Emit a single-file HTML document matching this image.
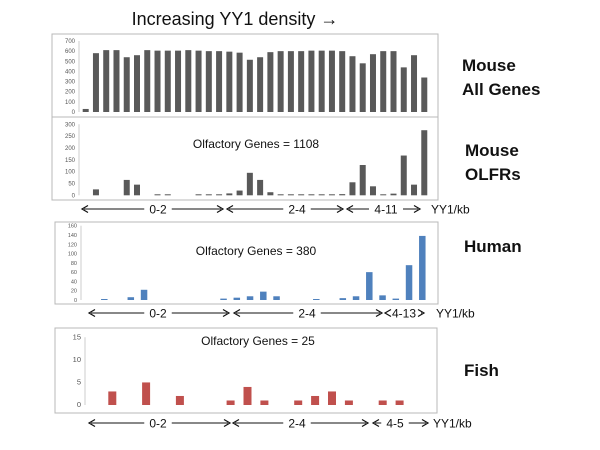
<!DOCTYPE html>
<html><head><meta charset="utf-8"><style>
html,body{margin:0;padding:0;background:#fff;width:600px;height:450px;overflow:hidden}
svg{display:block;font-family:"Liberation Sans",Arial,sans-serif}
</style></head><body>
<svg id="fig" width="600" height="450" viewBox="0 0 600 450">
<text x="235" y="25" font-size="18" text-anchor="middle" fill="#111">Increasing YY1 density →</text>
<text x="62" y="79" font-size="13" fill="#222">a</text>
<text x="62" y="162" font-size="13" fill="#222">b</text>
<text x="62" y="245" font-size="13" fill="#222">c</text>
<text x="62" y="383" font-size="13" fill="#222">d</text>
<g font-size="17" font-weight="bold" fill="#111">
<text x="462" y="71">Mouse</text>
<text x="462" y="95">All Genes</text>
<text x="465" y="156">Mouse</text>
<text x="465" y="180">OLFRs</text>
<text x="464" y="252">Human</text>
<text x="464" y="376">Fish</text>
</g>
<g id="panels"></g>
</svg>
<script>
const aValues=[30,580,610,610,540,560,610,605,605,605,610,605,600,600,595,585,515,540,590,600,600,600,605,605,605,600,550,480,570,600,600,440,560,340];
const aTicks=[0,100,200,300,400,500,600,700];
const bValues=[0,25,0,0,65,45,0,1,1,0,0,1,2,2,8,20,95,65,13,3,3,3,1,1,1,5,55,128,38,2,7,168,45,275];
const bTicks=[0,50,100,150,200,250,300];
const cValues=[2,0,6,22,0,0,0,0,0,3,5,8,18,8,0,0,0.5,0,4,8,60,10,3,75,138];
const cTicks=[0,20,40,60,80,100,120,140,160];
const dValues=[3,0,5,0,2,0,0,1,4,1,0,1,2,3,1,0,1,1];
const dTicks=[0,5,10,15];
const bLabel="Olfactory Genes = 1108", cLabel="Olfactory Genes = 380", dLabel="Olfactory Genes = 25";
const bRanges=["0-2","2-4","4-11"], cRanges=["0-2","2-4","4-13"], dRanges=["0-2","2-4","4-5"];

const NS="http://www.w3.org/2000/svg";
const root=document.getElementById('panels');
function mk(tag,attrs,parent){const e=document.createElementNS(NS,tag);for(const k in attrs)e.setAttribute(k,attrs[k]);(parent||root).appendChild(e);return e;}

function panel(id,box,values,ticks,opt){
  const g=mk('g',{});
  
  
  if(opt.border){const r=mk('rect',{x:box.x,y:box.y,width:box.w,height:box.h,fill:'#fff',stroke:'#b8b8b8','stroke-width':1},g);
    
    }
  const maxT=ticks[ticks.length-1];
  const ys=v=>opt.y0-(v/maxT)*(opt.y0-opt.yTop);
  const xs=i=>opt.x0+i*opt.step;
  const ax=mk('line',{x1:opt.axisX,y1:opt.yTop,x2:opt.axisX,y2:opt.y0,stroke:'#ccc','stroke-width':1},g);
  
  
  ticks.forEach(t=>{
    const tx=mk('text',{x:opt.axisX-4,y:ys(t)+2,'font-size':opt.tickSize,'text-anchor':'end',fill:'#555'},g);
    tx.textContent=t;
    
    
  });
  values.forEach((v,i)=>{
    if(v<=0) return;
    const top=ys(v);
    const h=Math.max(ys(0)-top,1);
    const r=mk('rect',{x:xs(i)-opt.bw/2,y:ys(0)-h,width:opt.bw,height:h,fill:opt.color},g);
    
    
  });
  if(opt.label){const t=mk('text',{x:opt.labelX,y:opt.labelY,'font-size':12,'text-anchor':'middle',fill:'#111'},g);
    t.textContent=opt.label;
    
    }
  return g;
}
function arrows(id,y,segs,ranges,unitX){
  const g=mk('g',{});
  
  
  segs.forEach((s,k)=>{
    const tw=ranges[k].length*6.5/2+4;
    const l1=mk('line',{x1:s[0]+2,y1:y,x2:s[2]-tw,y2:y,stroke:'#111','stroke-width':1},g);
    const l2=mk('line',{x1:s[2]+tw,y1:y,x2:s[1]-2,y2:y,stroke:'#111','stroke-width':1},g);
    const p1=mk('path',{d:`M${s[0]+6},${y-3.5} L${s[0]},${y} L${s[0]+6},${y+3.5}`,fill:'none',stroke:'#111','stroke-width':1.2},g);
    const p2=mk('path',{d:`M${s[1]-6},${y-3.5} L${s[1]},${y} L${s[1]-6},${y+3.5}`,fill:'none',stroke:'#111','stroke-width':1.2},g);
    [l1,l2,p1,p2].forEach(e=>{});
    const t=mk('text',{x:s[2],y:y+4.5,'font-size':12,'text-anchor':'middle',fill:'#111'},g);
    t.textContent=ranges[k];
    
    
  });
  const u=mk('text',{x:unitX,y:y+4.5,'font-size':12,fill:'#111'},g);
  u.textContent='YY1/kb';
  
  
}
const fr=mk('rect',{x:52,y:34,width:386,height:166,fill:'#fff',stroke:'#b8b8b8','stroke-width':1});


const sep=mk('line',{x1:52,y1:117,x2:438,y2:117,stroke:'#b8b8b8','stroke-width':1});



panel('a',{},aValues,aTicks,{border:false,x0:85.7,step:10.26,bw:6,y0:112,yTop:41,axisX:79,tickSize:6,color:'#595959'});
panel('b',{},bValues,bTicks,{border:false,x0:85.7,step:10.26,bw:6,y0:195.3,yTop:124.3,axisX:79,tickSize:6,color:'#595959',label:bLabel,labelX:256,labelY:148});
arrows('b',209,[[82,223,158],[227,343,297],[347,420,386]],bRanges,431);
panel('c',{x:55,y:222,w:383,h:82},cValues,cTicks,{border:true,x0:104.3,step:13.25,bw:6.5,y0:300,yTop:225.7,axisX:81,tickSize:5.5,color:'#4f81bd',label:cLabel,labelX:256,labelY:255});
arrows('c',313,[[89,229,158],[234,382,307],[385,424,404]],cRanges,436);
panel('d',{x:55,y:328,w:382,h:85},dValues,dTicks,{border:true,x0:112.3,step:16.9,bw:8,y0:405,yTop:337.3,axisX:85,tickSize:7.5,color:'#c0504d',label:dLabel,labelX:258,labelY:345});
arrows('d',423,[[89,230,158],[233,368,297],[373,428,395]],dRanges,433);
</script>
</body></html>
